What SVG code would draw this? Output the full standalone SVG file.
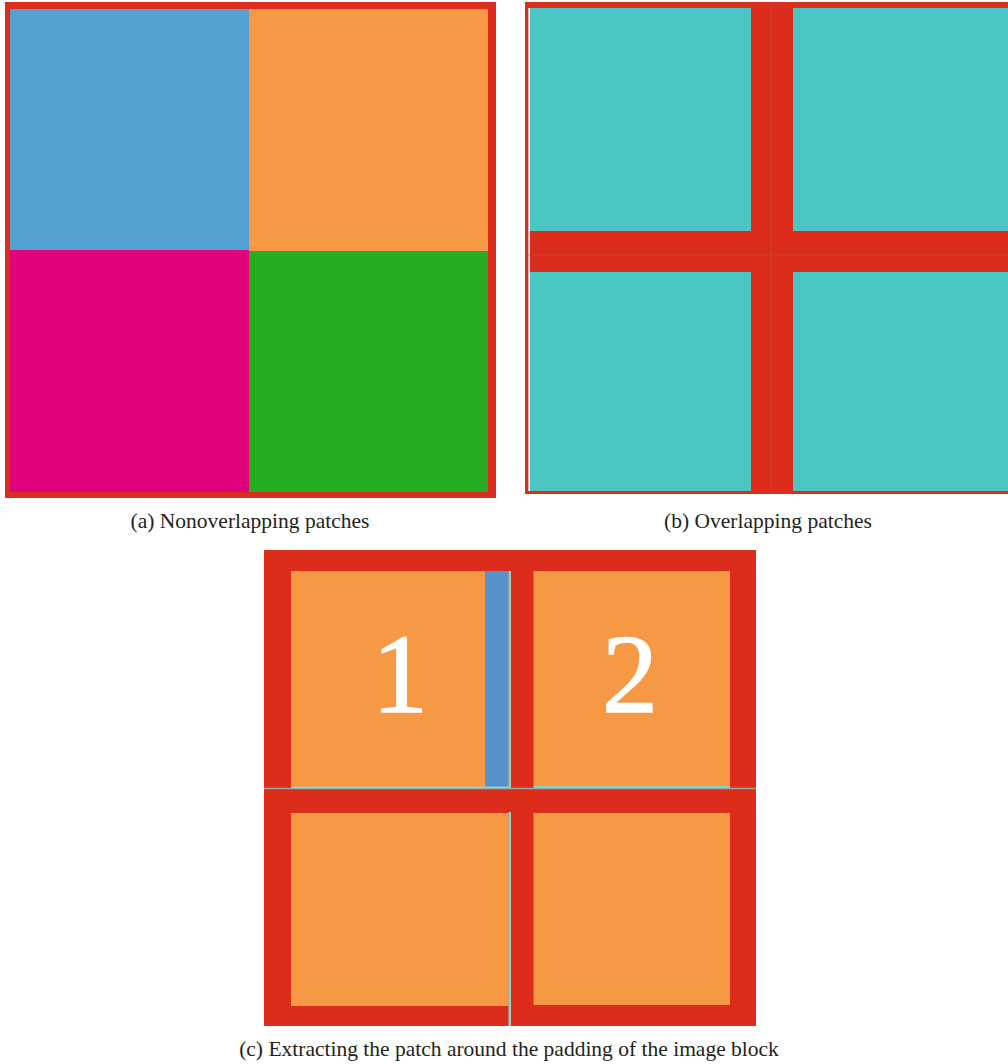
<svg xmlns="http://www.w3.org/2000/svg" width="1008" height="1064" viewBox="0 0 1008 1064">
<style>
.red{fill:#dc2c1b}
.teal{fill:#4cc6c2}
.or{fill:#f79845}
.cap{font-family:"Liberation Serif","DejaVu Serif",serif;font-size:21.5px;fill:#231f20;text-anchor:middle}
.num{font-family:"Liberation Serif","DejaVu Serif",serif;font-size:112px;fill:#ffffff;stroke:#ffffff;stroke-width:1.5;text-anchor:middle}
.ln{fill:#8fd3c4}
</style>
<rect width="1008" height="1064" fill="#ffffff"/>
<g id="panel-a">
<rect class="red" x="5" y="2" width="491" height="496"/>
<rect x="10" y="9" width="239" height="241" fill="#54a1d1"/>
<rect x="249" y="9" width="239" height="242" fill="#f79845"/>
<rect x="10" y="250" width="239" height="242" fill="#e0037c"/>
<rect x="249" y="251" width="239" height="241" fill="#25ae21"/>
</g>
<g id="panel-b">
<rect class="red" x="525" y="2" width="483" height="492"/>
<rect x="528.3" y="8" width="1.7" height="483" fill="#f2f2f2"/>
<rect class="teal" x="530" y="8" width="221" height="223"/>
<rect class="teal" x="793" y="8" width="215" height="223"/>
<rect class="teal" x="530" y="272" width="221" height="219"/>
<rect class="teal" x="793" y="272" width="215" height="219"/>
<line x1="771" y1="2" x2="771" y2="494" stroke="#c94a40" stroke-width="1" opacity="0.6"/>
<line x1="525" y1="255" x2="1008" y2="255" stroke="#c94a40" stroke-width="1" opacity="0.6"/>
</g>
<g id="panel-c">
<rect class="red" x="264" y="550" width="492" height="476"/>
<line x1="264" y1="788.5" x2="756" y2="788.5" stroke="#9aa6a6" stroke-width="1.5"/>
<rect class="or" x="291" y="571" width="194" height="216"/>
<rect x="485" y="571" width="23.5" height="216" fill="#5592cb"/>
<rect class="ln" x="508.5" y="571" width="2.5" height="217"/>
<rect class="ln" x="291" y="786.5" width="220" height="1.8"/>
<rect class="or" x="533.5" y="571" width="196.5" height="215"/>
<rect class="ln" x="533.5" y="786" width="196.5" height="2"/>
<rect class="or" x="291" y="813" width="217.5" height="193"/>
<rect class="ln" x="508.5" y="812" width="2.5" height="214"/>
<rect class="or" x="533.5" y="813" width="196.5" height="192"/>
<text class="num" x="400" y="712">1</text>
<text class="num" x="630" y="712">2</text>
</g>
<g id="connectors"/>
<g id="captions">
<text class="cap" x="250" y="528">(a) Nonoverlapping patches</text>
<text class="cap" x="768" y="528">(b) Overlapping patches</text>
<text class="cap" x="509" y="1056">(c) Extracting the patch around the padding of the image block</text>
</g>
</svg>
